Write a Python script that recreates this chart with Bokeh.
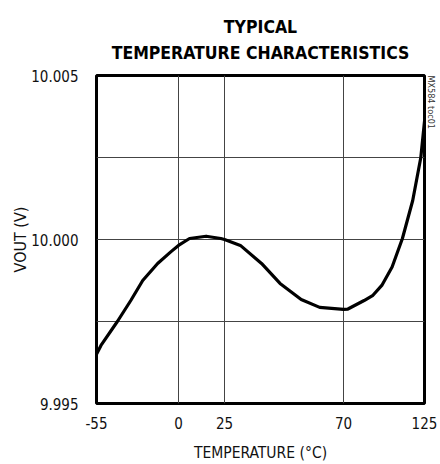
import numpy as np
from bokeh.plotting import figure
from bokeh.models import Range1d, FixedTicker, Title
from bokeh.embed import file_html
from bokeh.resources import INLINE

# ---- data ----
temperature_c = [-55, -52, -41, -32, -24, -14, -5, 0, 6, 15, 23, 25, 31, 39, 46,
                 54, 61, 70, 73, 84, 90, 96, 103, 110, 117, 122.5, 125]
vout_v = [9.99650, 9.99677, 9.99750, 9.99814, 9.99875, 9.99927, 9.99963, 9.99982,
          10.00003, 10.00010, 10.00003, 10.00000, 9.99982, 9.99927, 9.99866,
          9.99817, 9.99793, 9.99787, 9.99788, 9.99814, 9.99830, 9.99860,
          9.99916, 10.00003, 10.00119, 10.00250, 10.00360]

x_tick_values = [-55, 0, 25, 70, 125]
x_tick_labels = ["-55", "0", "25", "70", "125"]
y_tick_values = [9.995, 10.000, 10.005]
y_tick_labels = ["9.995", "10.000", "10.005"]
y_grid_values = [9.9975, 10.000, 10.0025]

title_lines = ["TYPICAL", "TEMPERATURE CHARACTERISTICS"]
x_label = "TEMPERATURE (°C)"
y_label = "VOUT (V)"
watermark = "MX584 toc01"

# ---- layout: the reference's temperature axis is not evenly spaced;
# these are the positions (px across the 328px frame) of the labelled temperatures
FRAME_W = 328
X_TICK_PX = [0, 82, 128, 247, 328]

x_pos = np.interp(temperature_c, x_tick_values, X_TICK_PX)

FONT = "DejaVu Sans Condensed"
INK = "#111111"

p = figure(width=440, height=464, output_backend="svg", toolbar_location=None,
           x_range=Range1d(0, FRAME_W), y_range=Range1d(y_tick_values[0], y_tick_values[-1]),
           min_border_left=96, min_border_right=16, min_border_top=75, min_border_bottom=61)

p.background_fill_color = "white"
p.border_fill_color = "white"
p.outline_line_color = "black"
p.outline_line_width = 3

# two-line title, each line centred (first added sits nearest the frame)
p.title.visible = False
for txt, standoff in [(title_lines[1], 25), (title_lines[0], -17)]:
    p.add_layout(Title(text=txt, align="center", text_font=FONT, text_font_size="17.5px",
                       text_font_style="bold", text_color="black", standoff=standoff), "above")

# x axis
xa = p.xaxis[0]
xa.ticker = FixedTicker(ticks=X_TICK_PX)
xa.major_label_overrides = {t: lab for t, lab in zip(X_TICK_PX, x_tick_labels)}
xa.axis_label = x_label
xa.axis_label_text_font = FONT
xa.axis_label_text_font_size = "15.5px"
xa.axis_label_text_font_style = "normal"
xa.axis_label_text_color = INK
xa.axis_label_standoff = 12
xa.major_label_text_font = FONT
xa.major_label_text_font_size = "15px"
xa.major_label_text_color = INK
xa.major_label_standoff = 13

# y axis
ya = p.yaxis[0]
ya.ticker = FixedTicker(ticks=y_tick_values)
ya.major_label_overrides = {t: lab for t, lab in zip(y_tick_values, y_tick_labels)}
ya.major_label_text_font = FONT
ya.major_label_text_font_size = "15px"
ya.major_label_text_color = INK
ya.major_label_standoff = 18
ya.axis_label = y_label
ya.axis_label_text_font = FONT
ya.axis_label_text_font_size = "16px"
ya.axis_label_text_font_style = "normal"
ya.axis_label_text_color = INK
ya.axis_label_standoff = -2

for ax in (xa, ya):
    ax.axis_line_color = None
    ax.major_tick_line_color = None
    ax.minor_tick_line_color = None
    ax.major_tick_out = 0
    ax.major_tick_in = 0

# grid
p.xgrid.ticker = FixedTicker(ticks=X_TICK_PX[1:-1])
p.ygrid.ticker = FixedTicker(ticks=y_grid_values)
for g in (p.xgrid[0], p.ygrid[0]):
    g.grid_line_color = "#444444"
    g.grid_line_width = 1

# curve
p.line(x_pos, vout_v, line_color="black", line_width=3.2, line_join="round", line_cap="round")

# figure id, to the right of the frame
p.add_layout(Title(text=watermark, align="left", text_font=FONT, text_font_size="9px",
                   text_font_style="normal", text_color="#333333", standoff=3), "right")

open("out.html", "w").write(file_html(p, INLINE))
